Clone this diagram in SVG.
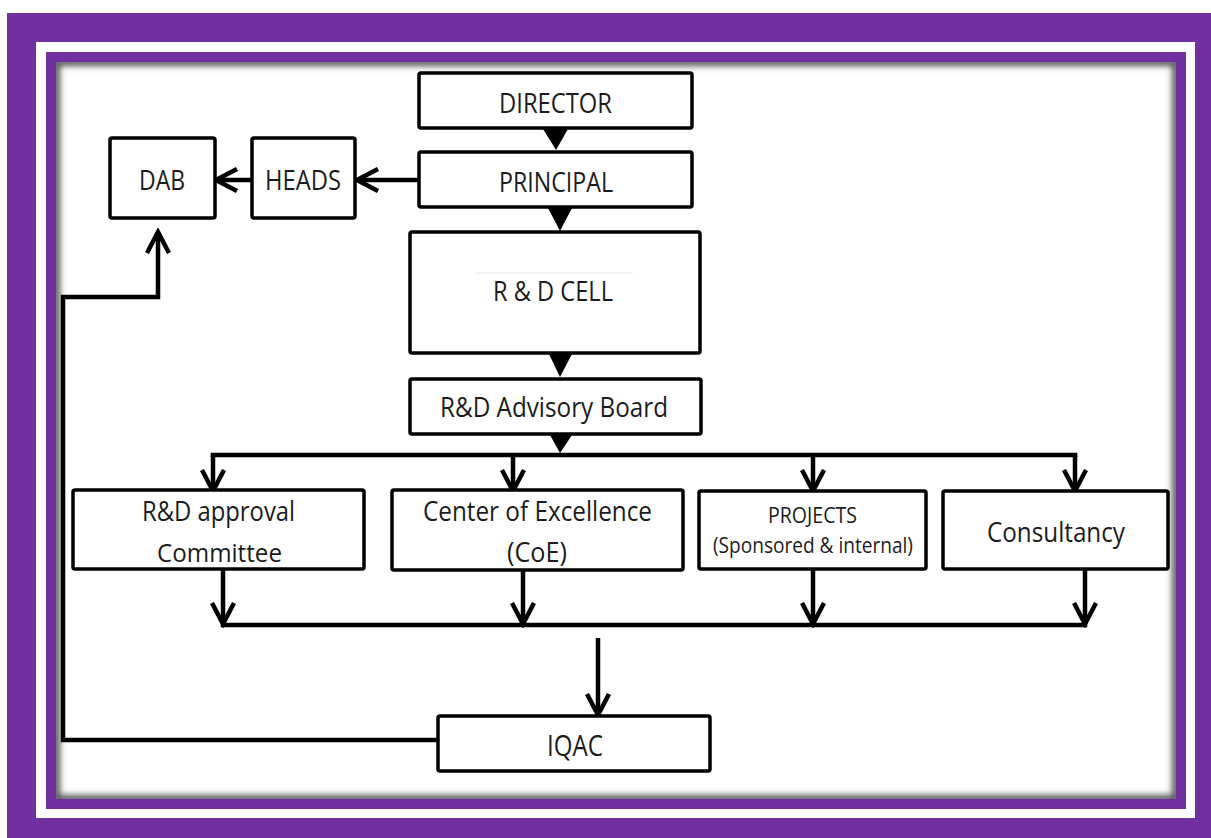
<svg xmlns="http://www.w3.org/2000/svg" width="1211" height="838" viewBox="0 0 1211 838">
<style>
.box{fill:#fff;stroke:#000;stroke-width:3.5}
.t{font-family:"Open Sans","Liberation Sans",sans-serif;fill:#1c1c1c;text-anchor:middle}
.c{fill:none;stroke:#000;stroke-width:4.5}
.ca{fill:none;stroke:#000;stroke-width:4.5;marker-end:url(#chev)}
.tri{fill:#000}
</style>
<defs>
<marker id="chev" markerUnits="userSpaceOnUse" viewBox="-26 -16 30 32" refX="0" refY="0" markerWidth="30" markerHeight="32" orient="auto">
<path d="M-21,-11 L0,0 L-21,11" fill="none" stroke="#000" stroke-width="4.5" stroke-linejoin="miter"/>
</marker>
<clipPath id="panel"><rect x="56" y="62" width="1120" height="737"/></clipPath>
<filter id="blur" x="-5%" y="-5%" width="110%" height="110%"><feGaussianBlur stdDeviation="3"/></filter>
</defs>
<g id="frame">
<rect x="0" y="0" width="1211" height="838" fill="#fff"/>
<rect x="7" y="13" width="1204" height="825" fill="#7030A0"/>
<rect x="36" y="42" width="1159" height="776" fill="#fff"/>
<rect x="46" y="52" width="1140" height="757" fill="#7030A0"/>
<rect x="56" y="62" width="1120" height="737" fill="#fff"/>
<rect x="56" y="62" width="1120" height="737" fill="none" stroke="#555" stroke-width="8" filter="url(#blur)" clip-path="url(#panel)"/>
</g>
<g id="connectors">
<path class="ca" d="M419,180 H357"/>
<path class="ca" d="M252,180 H216"/>
<polygon class="tri" points="543,129 568,129 556,150"/>
<polygon class="tri" points="548,208 572,208 560,231"/>
<polygon class="tri" points="549,354 572,354 560,377"/>
<polygon class="tri" points="550,435 572,435 560,453"/>
<path class="c" d="M213,455 H1075" stroke-linecap="square"/>
<path class="ca" d="M213,455 V491"/>
<path class="ca" d="M513,455 V491"/>
<path class="ca" d="M813,455 V491"/>
<path class="ca" d="M1075,455 V491"/>
<path class="ca" d="M223,570 V624"/>
<path class="ca" d="M523,570 V624"/>
<path class="ca" d="M813,570 V624"/>
<path class="ca" d="M1085,570 V624"/>
<path class="c" d="M223,625 H1085" stroke-linecap="square"/>
<path class="ca" d="M598,638 V715"/>
<path class="ca" d="M438,740 H63 V297 H158 V232" stroke-width="4.5"/>
</g>
<g id="director">
<rect class="box" x="419" y="73" width="273" height="55" rx="2"/>
<text class="t" x="555.5" y="113" font-size="28" textLength="113" lengthAdjust="spacingAndGlyphs">DIRECTOR</text>
</g>
<g id="principal">
<rect class="box" x="419" y="152" width="273" height="55" rx="2"/>
<text class="t" x="556" y="192" font-size="28" textLength="114" lengthAdjust="spacingAndGlyphs">PRINCIPAL</text>
</g>
<g id="heads">
<rect class="box" x="252" y="138" width="103" height="80" rx="2"/>
<text class="t" x="303" y="190" font-size="28" textLength="76" lengthAdjust="spacingAndGlyphs">HEADS</text>
</g>
<g id="dab">
<rect class="box" x="110" y="138" width="105" height="80" rx="2"/>
<text class="t" x="162" y="190" font-size="28" textLength="46" lengthAdjust="spacingAndGlyphs">DAB</text>
</g>
<g id="rd-cell">
<rect class="box" x="410" y="232" width="290" height="121" rx="2"/>
<line x1="476" y1="273" x2="633" y2="273" stroke="#e4e4e4" stroke-width="1"/>
<text class="t" x="553" y="301" font-size="28" textLength="120" lengthAdjust="spacingAndGlyphs">R &amp; D CELL</text>
</g>
<g id="advisory-board">
<rect class="box" x="410" y="379" width="291" height="55" rx="2"/>
<text class="t" x="554" y="417" font-size="28" textLength="228" lengthAdjust="spacingAndGlyphs">R&amp;D Advisory Board</text>
</g>
<g id="approval-committee">
<rect class="box" x="73" y="490" width="291" height="79" rx="2"/>
<text class="t" x="218.5" y="521" font-size="27" textLength="153" lengthAdjust="spacingAndGlyphs">R&amp;D approval</text>
<text class="t" x="219.5" y="562" font-size="26" textLength="125" lengthAdjust="spacingAndGlyphs">Committee</text>
</g>
<g id="coe">
<rect class="box" x="392" y="490" width="291" height="80" rx="2"/>
<text class="t" x="537.5" y="521" font-size="28" textLength="229" lengthAdjust="spacingAndGlyphs">Center of Excellence</text>
<text class="t" x="537" y="562" font-size="28" textLength="60" lengthAdjust="spacingAndGlyphs">(CoE)</text>
</g>
<g id="projects">
<rect class="box" x="699" y="491" width="227" height="78" rx="2"/>
<text class="t" x="812.5" y="523" font-size="21" textLength="89" lengthAdjust="spacingAndGlyphs">PROJECTS</text>
<text class="t" x="813" y="553" font-size="22" textLength="200" lengthAdjust="spacingAndGlyphs">(Sponsored &amp; internal)</text>
</g>
<g id="consultancy">
<rect class="box" x="943" y="491" width="225" height="78" rx="2"/>
<text class="t" x="1056" y="542" font-size="28" textLength="138" lengthAdjust="spacingAndGlyphs">Consultancy</text>
</g>
<g id="iqac">
<rect class="box" x="438" y="716" width="272" height="55" rx="2"/>
<text class="t" x="575" y="756" font-size="30" textLength="56" lengthAdjust="spacingAndGlyphs">IQAC</text>
</g>
</svg>
